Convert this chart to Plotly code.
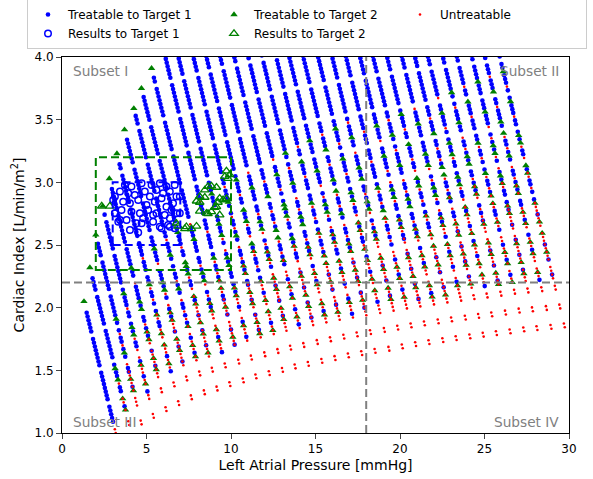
import numpy as np
import plotly.graph_objects as go

# ---------------- data ----------------
# Each steep "column" of the parameter sweep: top and bottom end points (LAP, CI)
col_top_x = [1.30, 1.65, 2.00, 2.40, 2.80, 3.25, 3.70, 4.25, 4.70, 5.30,
             6.08, 6.85, 7.74, 8.51, 9.33, 10.16, 10.99, 11.81, 12.64, 13.41,
             14.24, 15.12, 15.95, 16.77, 17.60, 18.37, 19.20, 20.08, 20.85, 21.62,
             22.50, 23.33, 24.22, 24.99, 25.87]
col_top_y = [2.05, 2.32, 2.58, 2.81, 3.03, 3.23, 3.42, 3.59, 3.75, 3.91,
             4.02, 4.02, 4.02, 4.02, 4.02, 4.02, 4.02, 4.02, 4.02, 4.02,
             4.02, 4.02, 4.02, 4.02, 4.02, 4.02, 4.02, 4.02, 4.02, 4.02,
             4.02, 4.02, 4.02, 4.02, 4.02]
col_bot_x = [3.18, 3.98, 4.71, 5.43, 6.18, 6.93, 7.68, 8.45, 9.20, 9.96,
             10.75, 11.50, 12.29, 13.07, 13.82, 14.60, 15.40, 16.18, 16.97, 17.76,
             18.55, 19.37, 20.16, 20.95, 21.74, 22.56, 23.35, 24.16, 24.95, 25.73,
             26.54, 27.35, 28.13, 28.96, 29.75]
col_bot_y = [1.00, 1.064, 1.069, 1.122, 1.176, 1.223, 1.270, 1.310, 1.340, 1.375,
             1.405, 1.437, 1.463, 1.489, 1.516, 1.537, 1.561, 1.583, 1.604, 1.622,
             1.640, 1.657, 1.676, 1.694, 1.710, 1.726, 1.742, 1.756, 1.769, 1.782,
             1.796, 1.812, 1.822, 1.832, 1.844]
# CI along each column below which Target-2 / untreatable points start to appear
col_mix_start = [1.07, 1.61, 1.93, 2.17, 2.40, 2.50, 2.55, 2.60, 2.68, 2.76,
                 2.85, 2.95, 3.05, 3.12, 3.15, 3.17, 3.20, 3.24, 3.30, 3.36,
                 3.42, 3.45, 3.48, 3.50, 3.52, 3.53, 3.58, 3.63, 3.68, 3.74,
                 3.80, 3.85, 3.90, 3.94, 3.98]
# CI along each column of the last treatable point (below: untreatable only)
col_last_treat = [1.07, 1.17, 1.26, 1.33, 1.40, 1.45, 1.50, 1.56, 1.60, 1.64,
                  1.68, 1.72, 1.75, 1.78, 1.82, 1.84, 1.87, 1.90, 1.92, 1.95,
                  1.97, 2.00, 2.02, 2.04, 2.06, 2.07, 2.09, 2.11, 2.13, 2.15,
                  2.16, 2.18, 2.19, 2.21, 2.22]

# Results of treatment
res1_x = [3.72, 4.11, 4.71, 5.30, 5.79, 6.18, 6.67,
          3.13, 3.43, 3.92, 4.31, 4.90, 5.20, 5.59, 5.98, 6.38, 6.77,
          3.03, 3.62, 4.02, 4.51, 5.00, 5.49, 5.89, 6.18, 6.57,
          3.13, 3.52, 4.11, 4.61, 5.10, 5.59, 6.08, 6.48, 6.97,
          3.33, 3.82, 4.41, 4.80, 5.39, 5.79, 6.28, 6.67, 6.38,
          3.13, 3.43, 4.71, 5.39, 6.38, 6.77, 6.97, 5.89, 4.02, 4.51]
res1_y = [2.979, 2.966, 2.993, 2.979, 2.993, 2.966, 2.979,
          2.886, 2.926, 2.913, 2.899, 2.926, 2.886, 2.939, 2.913, 2.926, 2.886,
          2.860, 2.846, 2.833, 2.860, 2.820, 2.846, 2.873, 2.806, 2.833,
          2.753, 2.780, 2.766, 2.753, 2.780, 2.753, 2.740, 2.780, 2.753,
          2.686, 2.700, 2.673, 2.713, 2.686, 2.646, 2.660, 2.633, 2.713,
          2.753, 2.700, 2.673, 2.740, 2.646, 2.753, 2.886, 2.633, 2.62, 2.60]
res2_x = [2.35, 2.83, 6.77, 6.87, 7.27, 7.36, 7.66, 7.96, 7.96, 8.15, 8.15, 8.15,
          8.45, 8.45, 8.55, 8.64, 8.64, 8.84, 8.84, 9.04, 9.14, 9.14, 9.23, 9.33,
          9.33, 9.53, 9.63, 9.73, 9.73, 9.82, 9.92]
res2_y = [2.81, 2.81, 2.673, 2.65, 2.63, 2.646, 2.63, 2.65, 2.85, 2.84, 2.77, 2.886,
          2.88, 2.939, 2.753, 2.75, 2.966, 2.97, 2.766, 2.80, 2.96, 2.806, 2.84, 2.74,
          2.873, 2.86, 3.046, 2.87, 3.09, 3.03, 3.06]

x_ticks = [0, 5, 10, 15, 20, 25, 30]
y_ticks = [1.0, 1.5, 2.0, 2.5, 3.0, 3.5, 4.0]

# class sequence along a column inside the mixed band (B: target 1, G: target 2, R: untreatable)
mix_upper = "BBGBBBRB"
mix_middle = "BGBRBBRG"
mix_lower = "BRGRBRRG"

# ---------------- build the point sets along each column ----------------
STEP = 0.03
bx, by, gx, gy, rx, ry = [], [], [], [], [], []
for k in range(len(col_top_x)):
    xt, yt, xb, yb = col_top_x[k], col_top_y[k], col_bot_x[k], col_bot_y[k]
    ms, lt = col_mix_start[k], col_last_treat[k]
    arc_top = yt < 4.0
    n = int((yt - yb) / STEP)
    slope = (xt - xb) / (yt - yb)
    for i in range(n + 1):
        y = yb + i * STEP
        x = xb + (y - yb) * slope
        if arc_top and y > yt - 0.06:
            continue
        if y <= lt:
            if i % 5 in (0, 1):
                rx.append(x); ry.append(y)
            continue
        if i % 9 == 8:
            continue
        if y > ms:
            bx.append(x); by.append(y)
            continue
        depth = (ms - y) / max(ms - lt, 1e-6)
        pat = mix_upper if depth < 0.3 else (mix_middle if depth < 0.65 else mix_lower)
        c = pat[(i + 3 * k) % 8]
        if c == "B":
            bx.append(x); by.append(y)
            if depth > 0.65 and i % 2 == 0:
                rx.append(x); ry.append(y)
        elif c == "G":
            gx.append(x); gy.append(y)
            if depth > 0.5:
                rx.append(x); ry.append(y)
        else:
            rx.append(x); ry.append(y)
    if arc_top:
        gx.append(xt); gy.append(yt)

fig = go.Figure()
fig.add_trace(go.Scatter(x=bx, y=by, mode="markers", name="Treatable to Target 1",
                         marker=dict(symbol="circle", size=4.6, color="#0000ff",
                                     line=dict(width=0))))
fig.add_trace(go.Scatter(x=gx, y=gy, mode="markers", name="Treatable to Target 2",
                         marker=dict(symbol="triangle-up", size=6.5, color="#008000",
                                     line=dict(width=0))))
fig.add_trace(go.Scatter(x=rx, y=ry, mode="markers", name="Untreatable",
                         marker=dict(symbol="circle", size=2.6, color="#ff0000",
                                     line=dict(width=0))))
fig.add_trace(go.Scatter(x=res1_x, y=res1_y, mode="markers", name="Results to Target 1",
                         marker=dict(symbol="circle-open", size=6.5, color="#0000ff",
                                     line=dict(width=1.5, color="#0000ff"))))
fig.add_trace(go.Scatter(x=res2_x, y=res2_y, mode="markers", name="Results to Target 2",
                         marker=dict(symbol="triangle-up-open", size=7.5, color="#008000",
                                     line=dict(width=1.3, color="#008000"))))

dash = "8px,4px"
shapes = [
    dict(type="line", xref="x", yref="y", x0=18, x1=18, y0=1.0, y1=4.0,
         line=dict(color="#808080", width=2, dash=dash), layer="above"),
    dict(type="line", xref="x", yref="y", x0=0, x1=30, y0=2.2, y1=2.2,
         line=dict(color="#808080", width=2, dash=dash), layer="above"),
    dict(type="rect", xref="x", yref="y", x0=2, x1=10, y0=2.3, y1=3.2,
         line=dict(color="#008000", width=2, dash=dash), layer="above"),
    dict(type="rect", xref="x", yref="y", x0=3, x1=7, y0=2.5, y1=3.0,
         line=dict(color="#0000ff", width=2, dash=dash), layer="above"),
]

afont = dict(family="DejaVu Sans", size=13.7, color="#808080")
annotations = [
    dict(text="Subset I", x=0.55, y=3.889, xref="x", yref="y", xanchor="left",
         yanchor="middle", showarrow=False, font=afont),
    dict(text="Subset II", x=29.5, y=3.889, xref="x", yref="y", xanchor="right",
         yanchor="middle", showarrow=False, font=afont),
    dict(text="Subset III", x=0.55, y=1.084, xref="x", yref="y", xanchor="left",
         yanchor="middle", showarrow=False, font=afont),
    dict(text="Subset IV", x=29.5, y=1.084, xref="x", yref="y", xanchor="right",
         yanchor="middle", showarrow=False, font=afont),
]

PLOT_W = 593 - 62 - 24
PLOT_H = 479 - 57 - 46
fig.update_layout(
    width=593, height=479,
    margin=dict(l=62, r=24, t=57, b=46, autoexpand=False),
    paper_bgcolor="white", plot_bgcolor="white",
    font=dict(family="DejaVu Sans", size=12, color="black"),
    shapes=shapes, annotations=annotations,
    legend=dict(orientation="h",
                x=(27 - 62) / PLOT_W, y=1 + (57 + 1) / PLOT_H,
                xanchor="left", yanchor="top",
                bordercolor="#cccccc", borderwidth=1, bgcolor="white",
                font=dict(size=12), entrywidth=141, entrywidthmode="pixels",
                traceorder="normal"),
    xaxis=dict(range=[0, 30], tickvals=x_ticks, ticks="outside", ticklen=5,
               showline=True, mirror=True, linecolor="black", linewidth=1,
               showgrid=False, zeroline=False,
               title=dict(text="Left Atrial Pressure [mmHg]", standoff=4)),
    yaxis=dict(range=[1.0, 4.0], tickvals=y_ticks, tickformat=".1f", ticks="outside",
               ticklen=5, showline=True, mirror=True, linecolor="black", linewidth=1,
               showgrid=False, zeroline=False,
               title=dict(text="Cardiac Index [L/min/m<sup>2</sup>]", standoff=6)),
)

fig.write_html("out.html", config={"displayModeBar": False},
               post_script="document.body.style.margin='0px';")
